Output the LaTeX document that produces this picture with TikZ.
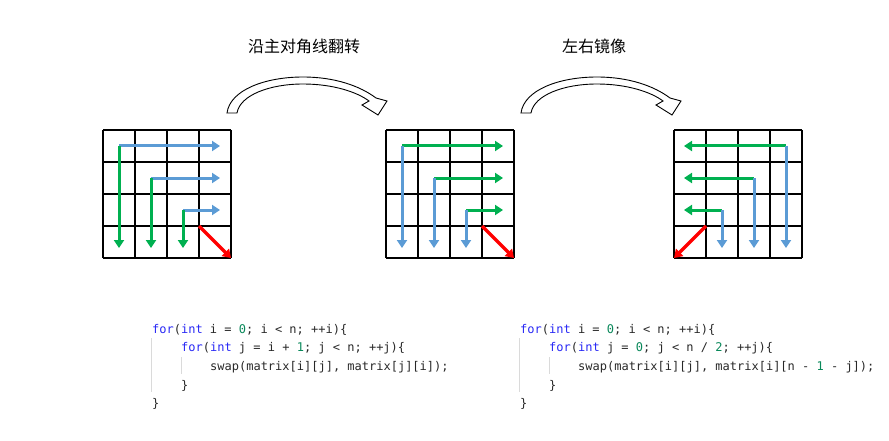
\documentclass[tikz,border=0pt]{standalone}
\usepackage{fontspec}
\usetikzlibrary{arrows.meta}
\newfontfamily\cjk{Noto Sans CJK SC}
\newfontfamily\codefont{DejaVu Sans Mono}
\definecolor{blu}{RGB}{91,155,213}
\definecolor{grn}{RGB}{0,176,80}
\definecolor{redarrow}{RGB}{255,0,0}
\definecolor{kwcol}{RGB}{40,40,245}
\definecolor{numcol}{RGB}{9,136,90}
\definecolor{guidecol}{RGB}{218,218,218}
\definecolor{codetxt}{RGB}{40,40,40}
\newcommand{\kwc}[1]{\textcolor{kwcol}{#1}}
\newcommand{\numc}[1]{\textcolor{numcol}{#1}}
\begin{document}
\begin{tikzpicture}[x=1pt,y=-1pt,
  gridline/.style={line width=1.2pt,black},
  flowarrow/.style={line width=3pt,-{Triangle[length=8pt,width=10pt]}},
  diagarrow/.style={line width=3.3pt,redarrow,-{Triangle[length=8pt,width=10pt]}},
  bigarrow/.style={draw=black,line width=0.9pt,fill=white,line join=miter},
  title/.style={font=\cjk\fontsize{16}{18}\selectfont,inner sep=0pt},
  code/.style={font=\codefont\fontsize{12}{14}\selectfont,text=codetxt,inner sep=0pt,anchor=base west},
  guide/.style={line width=0.8pt,guidecol}]
\useasboundingbox (0,0) rectangle (889,441);

% ---------- titles ----------
\node[title] (t1) at (304,46) {沿主对角线翻转};
\node[title] (t2) at (594,46) {左右镜像};

% ---------- curved block arrows ----------
\foreach \dx [count=\k] in {0,294}{
\begin{scope}[xshift=\dx]
\path[bigarrow] (227,113) -- (237,113)
  .. controls (240,95) and (270,84) .. (303,84)
  .. controls (333,84) and (357,92) .. (369,101)
  -- (362,105) -- (378,115) -- (387,101) -- (376,98)
  .. controls (360,86) and (335,77) .. (303,77)
  .. controls (265,77) and (230,90) .. (227,113) -- cycle;
\end{scope}
}

% ---------- grids ----------
\foreach \ox in {103,386,674}{
  \foreach \i in {0,...,4}{
    \draw[gridline] (\ox+32*\i,130) -- (\ox+32*\i,258);
    \draw[gridline] (\ox,130+32*\i) -- (\ox+128,130+32*\i);
  }
}

% ---------- grid 1 ----------
\begin{scope}[xshift=103,yshift=-130]
\foreach \r in {0,1,2}{
  \draw[flowarrow,blu] (16+32*\r,16+32*\r) -- (117,16+32*\r);
  \draw[flowarrow,grn] (16+32*\r,16+32*\r) -- (16+32*\r,118);
}
\draw[diagarrow] (96,96) -- (128,128);
\end{scope}

% ---------- grid 2 ----------
\begin{scope}[xshift=386,yshift=-130]
\foreach \r in {0,1,2}{
  \draw[flowarrow,grn] (16+32*\r,16+32*\r) -- (117,16+32*\r);
  \draw[flowarrow,blu] (16+32*\r,16+32*\r) -- (16+32*\r,118);
}
\draw[diagarrow] (96,96) -- (128,128);
\end{scope}

% ---------- grid 3 ----------
\begin{scope}[xshift=674,yshift=-130]
\foreach \r in {0,1,2}{
  \draw[flowarrow,grn] (112-32*\r,16+32*\r) -- (10,16+32*\r);
  \draw[flowarrow,blu] (112-32*\r,16+32*\r) -- (112-32*\r,118);
}
\draw[diagarrow] (32,96) -- (0,128);
\end{scope}

% ---------- code block 1 ----------
\draw[guide] (151.5,338) -- (151.5,392);
\draw[guide] (181,357) -- (181,374);
\node[code] (a1) at (152,333) {\kwc{for}(\kwc{int} i = \numc{0}; i < n; ++i)\{};
\node[code] (a2) at (181,351.7) {\kwc{for}(\kwc{int} j = i + \numc{1}; j < n; ++j)\{};
\node[code] (a3) at (210,370.4) {swap(matrix[i][j], matrix[j][i]);};
\node[code] (a4) at (181,389) {\}};
\node[code] (a5) at (152,407.8) {\}};

% ---------- code block 2 ----------
\draw[guide] (519.5,338) -- (519.5,392);
\draw[guide] (549,357) -- (549,374);
\node[code] (b1) at (520,333) {\kwc{for}(\kwc{int} i = \numc{0}; i < n; ++i)\{};
\node[code] (b2) at (549,351.7) {\kwc{for}(\kwc{int} j = \numc{0}; j < n / \numc{2}; ++j)\{};
\node[code] (b3) at (578,370.4) {swap(matrix[i][j], matrix[i][n - \numc{1} - j]);};
\node[code] (b4) at (549,389) {\}};
\node[code] (b5) at (520,407.8) {\}};
\end{tikzpicture}
\end{document}
